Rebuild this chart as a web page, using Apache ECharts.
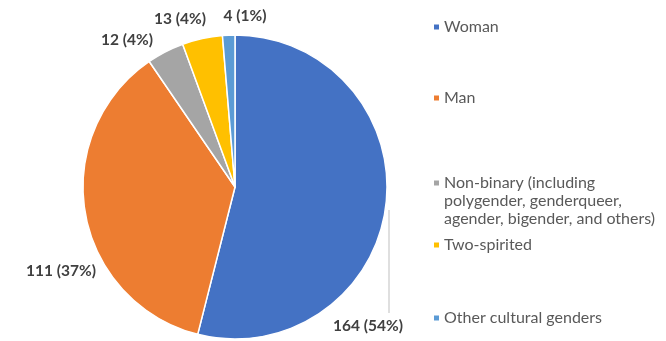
<!DOCTYPE html>
<html>
<head>
<meta charset="utf-8">
<script src="https://cdn.jsdelivr.net/npm/echarts@6/dist/echarts.min.js"></script>
<style>
  html, body { margin: 0; padding: 0; background: #fff; }
  #chart { width: 666px; height: 341px; }
</style>
</head>
<body>
<div id="chart"></div>
<script>
// Respondent gender breakdown
const categories = [
  'Woman',
  'Man',
  'Non-binary (including polygender, genderqueer, agender, bigender, and others)',
  'Two-spirited',
  'Other cultural genders'
];
const counts = [164, 111, 12, 13, 4];
const colors = ['#4472C4', '#ED7D31', '#A5A5A5', '#FFC000', '#5B9BD5'];

// Where each data label sits, and the vertical centre of each legend row's first line
const labelSpots = [[368, 326], [61, 271], [127, 40], [180, 19], [245, 16]];
const legendRowY = [27, 98, 183, 245, 318];
const LINE_H = 18;

const wrapLegend = name => name.startsWith('Non-binary')
  ? 'Non-binary (including\npolygender, genderqueer,\nagender, bigender, and others)'
  : name;

// For a wrapped entry the marker is drawn at the top of a tall, otherwise empty
// icon box so it lines up with the first line of text rather than the middle.
const legends = categories.map((name, i) => {
  const lines = wrapLegend(name).split('\n').length;
  const multi = lines > 1;
  const iconH = multi ? LINE_H * (lines - 1) + 5 : 5;
  return {
    data: [name],
    left: 434,
    top: legendRowY[i] - LINE_H / 2,
    padding: 0,
    icon: multi ? 'path://M0,0h5v5h-5z M0,' + (iconH - 0.01) + 'h5v0.01h-5z' : 'rect',
    itemWidth: 5,
    itemHeight: iconH,
    itemStyle: { borderWidth: 0 },
    selectedMode: false,
    formatter: wrapLegend,
    textStyle: {
      fontFamily: 'Lato',
      fontSize: 16,
      color: '#595959',
      lineHeight: LINE_H
    }
  };
});

const chart = echarts.init(document.getElementById('chart'), null, { renderer: 'canvas' });
chart.setOption({
  animation: false,
  color: colors,
  legend: legends,
  series: [{
    type: 'pie',
    center: [235, 187],
    radius: 152,
    startAngle: 90,
    clockwise: true,
    percentPrecision: 0,
    avoidLabelOverlap: false,
    itemStyle: { borderColor: '#fff', borderWidth: 1.5 },
    label: {
      show: true,
      position: 'outside',
      formatter: '{c} ({d}%)',
      fontFamily: 'Lato',
      fontWeight: 'bold',
      fontSize: 15.5,
      color: '#404040'
    },
    labelLine: { show: false },
    labelLayout: params => {
      const p = labelSpots[params.dataIndex];
      const out = { x: p[0], y: p[1], align: 'center', verticalAlign: 'middle' };
      if (params.dataIndex === 0) {
        out.labelLinePoints = [[389, 210], [389, 313], [389, 313]];
      }
      return out;
    },
    data: categories.map((name, i) => ({
      name,
      value: counts[i],
      labelLine: i === 0
        ? { show: true, length: 10, length2: 10, lineStyle: { color: '#BFBFBF', width: 1 } }
        : { show: false }
    }))
  }]
});
</script>
</body>
</html>
